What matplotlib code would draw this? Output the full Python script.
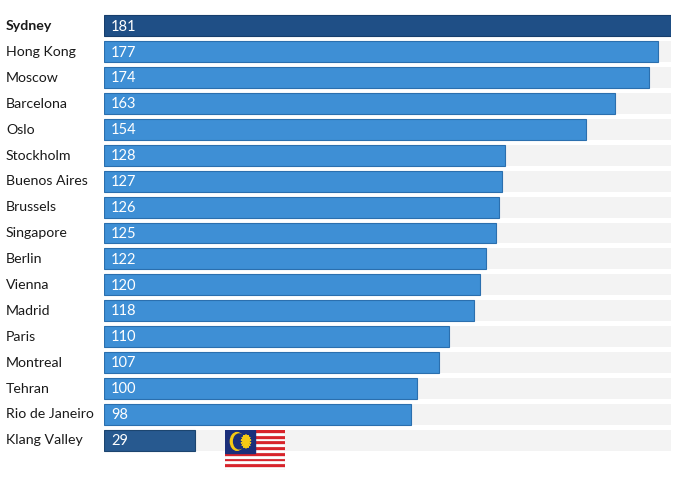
import numpy as np
import matplotlib
matplotlib.use("Agg")
import matplotlib.pyplot as plt
from matplotlib.patches import Rectangle, Circle

cities = ["Sydney", "Hong Kong", "Moscow", "Barcelona", "Oslo", "Stockholm",
          "Buenos Aires", "Brussels", "Singapore", "Berlin", "Vienna", "Madrid",
          "Paris", "Montreal", "Tehran", "Rio de Janeiro", "Klang Valley"]
values = [181, 177, 174, 163, 154, 128, 127, 126, 125, 122, 120, 118,
          110, 107, 100, 98, 29]

plt.rcParams['font.family'] = ['Lato', 'DejaVu Sans']

BLUE = "#3e8fd5"
BLUE_EDGE = "#2b6fae"
DARK = "#1f4f86"
KLANG = "#27598f"
BG = "#f3f3f3"

fig = plt.figure(figsize=(6.8, 4.8), dpi=100)
ax = fig.add_axes([104 / 680, 1 - 453 / 480, (671 - 104) / 680, 440 / 480])

ymax = max(values)
y = np.arange(len(cities))
colors = [DARK if i == 0 else (KLANG if c == "Klang Valley" else BLUE)
          for i, c in enumerate(cities)]
edges = ["#173e6c" if i == 0 else ("#1c456f" if c == "Klang Valley" else BLUE_EDGE)
         for i, c in enumerate(cities)]

ax.barh(y, [ymax] * len(cities), height=0.81, color=BG, zorder=1)
ax.barh(y, values, height=0.81, color=colors, edgecolor=edges, linewidth=0.8, zorder=2)

for yi, v in zip(y, values):
    ax.text(2.2, yi + 0.03, str(v), color="white", fontsize=10.5,
            va="center", ha="left", zorder=3)

ax.set_xlim(0, ymax)
ax.set_ylim(len(cities) - 0.5, -0.5)
ax.axis("off")

for yi, c in zip(y, cities):
    fig.text(6 / 680, 1 - (26 + yi * 25.9) / 480, c, fontsize=10.2,
             fontweight="bold" if yi == 0 else "normal",
             va="center", ha="left", color="#1a1a1a")

# small Malaysian flag next to Klang Valley
fax = fig.add_axes([225 / 680, 1 - 470 / 480, 60 / 680, 40 / 480])
fax.set_xlim(0, 28)
fax.set_ylim(0, 14)
fax.axis("off")
for s in range(14):
    fax.add_patch(Rectangle((0, s), 28, 1, color="#d8232a" if s % 2 == 1 else "white",
                            ec="#dddddd" if s % 2 == 0 else "#d8232a", lw=0.2))
fax.add_patch(Rectangle((0, 6), 14, 8, color="#1b2f7a"))
fax.add_patch(Circle((5.6, 10), 3.1, color="#f6c915"))
fax.add_patch(Circle((6.6, 10), 2.6, color="#1b2f7a"))
ang = np.linspace(0, 2 * np.pi, 29)[:-1]
rad = np.where(np.arange(28) % 2 == 0, 2.4, 1.0)
fax.fill(9.8 + rad * np.sin(ang), 10 + rad * np.cos(ang), color="#f6c915")

fig.savefig("out.png", dpi=100, facecolor="white")
